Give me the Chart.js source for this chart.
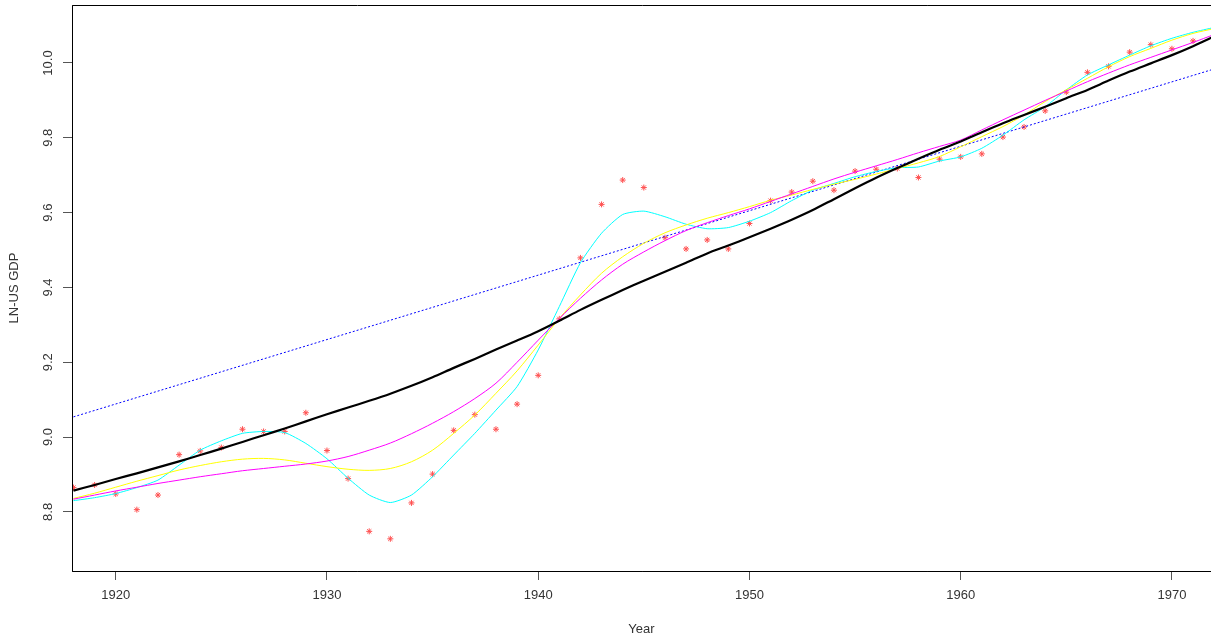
<!DOCTYPE html>
<html>
<head>
<meta charset="utf-8">
<script src="https://cdn.jsdelivr.net/npm/chart.js@4"></script>
<style>
  body { margin: 0; background: #fff; }
  #wrap { width: 1211px; height: 639px; }
</style>
</head>
<body>
<div id="wrap"><canvas id="gdp"></canvas></div>
<script>
// observed ln(GDP), one per year
const obsYears = [1918,1919,1920,1921,1922,1923,1924,1925,1926,1927,1928,1929,1930,1931,1932,1933,1934,1935,1936,1937,1938,1939,1940,1941,1942,1943,1944,1945,1946,1947,1948,1949,1950,1951,1952,1953,1954,1955,1956,1957,1958,1959,1960,1961,1962,1963,1964,1965,1966,1967,1968,1969,1970,1971];
const obsValues = [8.865,8.872,8.848,8.806,8.845,8.953,8.963,8.972,9.021,9.015,9.015,9.065,8.964,8.889,8.748,8.728,8.824,8.901,9.018,9.060,9.021,9.088,9.165,9.316,9.479,9.622,9.687,9.667,9.533,9.503,9.527,9.503,9.571,9.632,9.655,9.684,9.660,9.711,9.716,9.718,9.694,9.743,9.749,9.757,9.802,9.829,9.872,9.922,9.975,9.991,10.029,10.049,10.038,10.059];

// fitted curves
const fitYears = [1918,1919,1920,1921,1922,1923,1924,1925,1926,1927,1928,1929,1930,1931,1932,1933,1934,1935,1936,1937,1938,1939,1940,1941,1942,1943,1944,1945,1946,1947,1948,1949,1950,1951,1952,1953,1954,1955,1956,1957,1958,1959,1960,1961,1962,1963,1964,1965,1966,1967,1968,1969,1970,1971,1972];
const trendFit = [8.857,8.872,8.888,8.903,8.919,8.935,8.952,8.969,8.987,9.005,9.023,9.042,9.061,9.079,9.097,9.116,9.137,9.160,9.185,9.209,9.234,9.258,9.283,9.311,9.340,9.367,9.393,9.418,9.442,9.466,9.491,9.512,9.534,9.557,9.581,9.607,9.636,9.665,9.693,9.719,9.744,9.768,9.790,9.815,9.839,9.861,9.883,9.906,9.928,9.953,9.977,9.999,10.021,10.045,10.071];
const cyanFit = [8.830,8.838,8.849,8.865,8.885,8.925,8.965,8.990,9.010,9.015,9.012,8.983,8.942,8.890,8.845,8.825,8.845,8.894,8.952,9.010,9.072,9.135,9.233,9.349,9.466,9.545,9.595,9.604,9.589,9.569,9.557,9.560,9.577,9.600,9.632,9.660,9.678,9.696,9.710,9.720,9.722,9.738,9.749,9.772,9.807,9.848,9.883,9.928,9.968,9.995,10.021,10.046,10.066,10.082,10.095];
const yellowFit = [8.836,8.850,8.866,8.882,8.897,8.912,8.924,8.934,8.941,8.943,8.939,8.930,8.921,8.914,8.911,8.916,8.934,8.965,9.010,9.059,9.117,9.177,9.246,9.317,9.380,9.438,9.482,9.518,9.546,9.567,9.585,9.600,9.616,9.633,9.647,9.662,9.676,9.689,9.703,9.718,9.733,9.750,9.776,9.803,9.830,9.861,9.897,9.928,9.959,9.990,10.017,10.039,10.061,10.079,10.092];
const magentaFit = [8.834,8.845,8.856,8.866,8.876,8.885,8.894,8.902,8.910,8.916,8.922,8.928,8.936,8.948,8.965,8.984,9.009,9.037,9.068,9.103,9.144,9.200,9.259,9.317,9.371,9.420,9.462,9.495,9.525,9.552,9.573,9.592,9.610,9.630,9.650,9.670,9.690,9.708,9.725,9.742,9.760,9.777,9.794,9.821,9.848,9.874,9.900,9.925,9.950,9.973,9.995,10.015,10.035,10.055,10.076];

// straight line fit
const linYears = [1918, 1972];
const linFit = [9.054, 9.984];

const xTicks = [1920, 1930, 1940, 1950, 1960, 1970];
const yTicks = [8.8, 9.0, 9.2, 9.4, 9.6, 9.8, 10.0];

function pts(xs, ys) {
  return xs.map((x, i) => ({ x: x, y: ys[i] }));
}

const FONT = "'Liberation Sans', Arial, sans-serif";

// box on left/top/bottom + rotated y labels like base R
const rFrame = {
  id: "rFrame",
  afterDraw(chart) {
    const ctx = chart.ctx, a = chart.chartArea, ys = chart.scales.y;
    ctx.save();
    ctx.strokeStyle = "#000";
    ctx.lineWidth = 1;
    ctx.beginPath();
    ctx.moveTo(a.right + 5, a.top + 0.5);
    ctx.lineTo(a.left + 0.5, a.top + 0.5);
    ctx.lineTo(a.left + 0.5, a.bottom + 0.5);
    ctx.lineTo(a.right + 5, a.bottom + 0.5);
    ctx.stroke();
    ctx.fillStyle = "#333";
    ctx.font = "13px " + FONT;
    ctx.textAlign = "center";
    ctx.textBaseline = "middle";
    yTicks.forEach(v => {
      const py = ys.getPixelForValue(v);
      ctx.save();
      ctx.translate(48, py);
      ctx.rotate(-Math.PI / 2);
      ctx.fillText(v.toFixed(1), 0, 0);
      ctx.restore();
    });
    ctx.restore();
  }
};

new Chart(document.getElementById("gdp"), {
  type: "line",
  data: {
    datasets: [
      {
        label: "trend",
        data: pts(fitYears, trendFit),
        borderColor: "#000",
        borderWidth: 2.2,
        pointRadius: 0,
        tension: 0.3
      },
      {
        label: "magenta",
        data: pts(fitYears, magentaFit),
        borderColor: "#ff00ff",
        borderWidth: 1,
        pointRadius: 0,
        tension: 0.3
      },
      {
        label: "yellow",
        data: pts(fitYears, yellowFit),
        borderColor: "#ffff00",
        borderWidth: 1,
        pointRadius: 0,
        tension: 0.3
      },
      {
        label: "cyan",
        data: pts(fitYears, cyanFit),
        borderColor: "#00ffff",
        borderWidth: 1,
        pointRadius: 0,
        tension: 0.2
      },
      {
        label: "linear",
        data: pts(linYears, linFit),
        borderColor: "#0000ff",
        borderWidth: 1,
        borderDash: [2, 2],
        pointRadius: 0
      },
      {
        label: "observed",
        data: pts(obsYears, obsValues),
        showLine: false,
        pointStyle: "star",
        pointRadius: 3,
        pointBorderColor: "#ff5050",
        pointBorderWidth: 1,
        pointBackgroundColor: "#ff5050"
      }
    ]
  },
  options: {
    responsive: true,
    maintainAspectRatio: false,
    animation: false,
    layout: { padding: { top: 5, left: 0, right: 0, bottom: 0 }, autoPadding: false },
    plugins: { legend: { display: false }, tooltip: { enabled: false } },
    scales: {
      x: {
        type: "linear",
        min: 1917.93,
        max: 1971.85,
        afterFit(s) { s.height = 68; },
        afterBuildTicks(s) { s.ticks = xTicks.map(v => ({ value: v })); },
        grid: { display: true, drawOnChartArea: false, drawTicks: true, tickLength: 9, color: "#555" },
        border: { display: true, color: "#555" },
        ticks: {
          color: "#333",
          font: { family: FONT, size: 13 },
          padding: 8,
          maxRotation: 0,
          callback: v => String(v)
        },
        title: {
          display: true,
          text: "Year",
          color: "#333",
          font: { family: FONT, size: 13 },
          padding: { top: 2, bottom: 2 }
        }
      },
      y: {
        type: "linear",
        min: 8.642,
        max: 10.155,
        afterFit(s) { s.width = 72; },
        afterBuildTicks(s) { s.ticks = yTicks.map(v => ({ value: v })); },
        grid: { display: true, drawOnChartArea: false, drawTicks: true, tickLength: 9, color: "#555" },
        border: { display: true, color: "#555" },
        ticks: { display: false },
        title: {
          display: true,
          text: "LN-US GDP",
          color: "#333",
          font: { family: FONT, size: 13 },
          padding: { top: 7, bottom: 0 }
        }
      }
    }
  },
  plugins: [rFrame]
});
</script>
</body>
</html>
